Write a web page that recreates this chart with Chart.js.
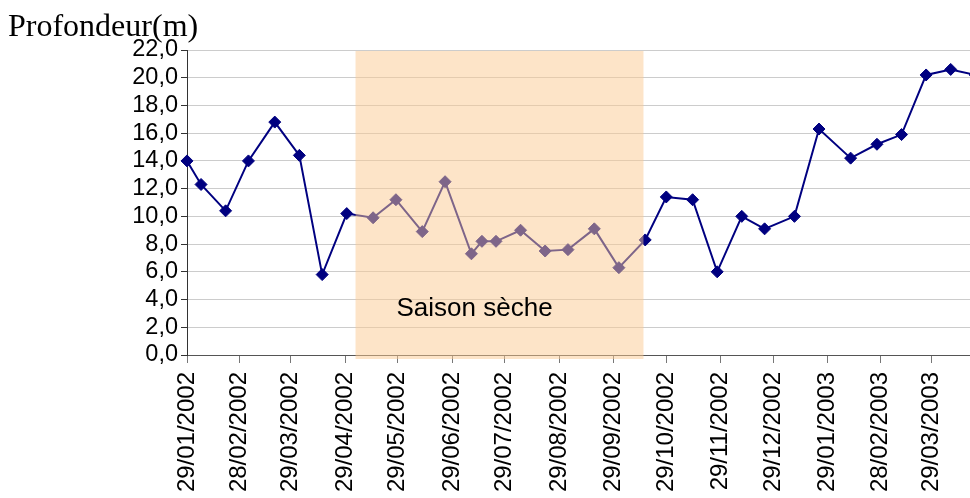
<!DOCTYPE html>
<html>
<head>
<meta charset="utf-8">
<script src="https://cdn.jsdelivr.net/npm/chart.js@4"></script>
<style>
  html, body { margin: 0; padding: 0; background: #fff; }
  #box { width: 970px; height: 498px; position: relative; }
</style>
</head>
<body>
<div id="box"><canvas id="graficaProfondeur"></canvas></div>
<script>
// ===============================
// DONNÉES
// ===============================

const datesMesure = [
    "29/01/2002", "06/02/2002", "20/02/2002", "05/03/2002", "20/03/2002",
    "03/04/2002", "16/04/2002", "30/04/2002", "15/05/2002", "28/05/2002",
    "12/06/2002", "25/06/2002", "10/07/2002", "16/07/2002", "24/07/2002",
    "07/08/2002", "21/08/2002", "03/09/2002", "18/09/2002", "02/10/2002",
    "17/10/2002", "29/10/2002", "13/11/2002", "27/11/2002", "11/12/2002",
    "24/12/2002", "10/01/2003", "24/01/2003", "11/02/2003", "26/02/2003",
    "12/03/2003", "26/03/2003", "09/04/2003", "23/04/2003"
];

const profondeurs = [
    14.0, 12.3, 10.4, 14.0, 16.8,
    14.4, 5.8, 10.2, 9.9, 11.2,
    8.9, 12.5, 7.3, 8.2, 8.2,
    9.0, 7.5, 7.6, 9.1, 6.3,
    8.3, 11.4, 11.2, 6.0, 10.0,
    9.1, 10.0, 16.3, 14.2, 15.2,
    15.9, 20.2, 20.6, 20.2
];

const ticksDates = [
    "29/01/2002", "28/02/2002", "29/03/2002", "29/04/2002", "29/05/2002",
    "29/06/2002", "29/07/2002", "29/08/2002", "29/09/2002", "29/10/2002",
    "29/11/2002", "29/12/2002", "29/01/2003", "28/02/2003", "29/03/2003"
];

const debutAxe = "29/01/2002";
const finAxe = "20/04/2003";

const saisonSeche = ["05/05/2002", "16/10/2002"];
const texteSaison = "Saison sèche";

const yMin = 0;
const yMax = 22;
const yPas = 2;


// ===============================
// OUTILS
// ===============================

function versJour(texte) {
    const p = texte.split("/");
    return Date.UTC(+p[2], +p[1] - 1, +p[0]) / 86400000;
}

function versTexte(jour) {
    const d = new Date(Math.round(jour) * 86400000);
    const jj = String(d.getUTCDate()).padStart(2, "0");
    const mm = String(d.getUTCMonth() + 1).padStart(2, "0");
    return jj + "/" + mm + "/" + d.getUTCFullYear();
}


// ===============================
// RECTANGLE SAISON SÈCHE
// ===============================

const pluginSaison = {
    id: "saison",
    afterDatasetsDraw(chart) {
        const ctx = chart.ctx;
        const x = chart.scales.x;
        const area = chart.chartArea;

        const x1 = x.getPixelForValue(versJour(saisonSeche[0]));
        const x2 = x.getPixelForValue(versJour(saisonSeche[1]));

        ctx.save();
        ctx.fillStyle = "rgba(251,201,145,0.5)";
        ctx.fillRect(x1, area.top + 1, x2 - x1, area.bottom - area.top + 3);

        ctx.fillStyle = "#000";
        ctx.font = "26px 'Liberation Sans', Arial, sans-serif";
        ctx.textAlign = "center";
        ctx.textBaseline = "alphabetic";
        ctx.fillText(texteSaison, x1 + 119, area.bottom - 39);
        ctx.restore();
    }
};

const pluginTitre = {
    id: "titre",
    afterDraw(chart) {
        const ctx = chart.ctx;
        ctx.save();
        ctx.fillStyle = "#000";
        ctx.font = "32px 'Liberation Serif', 'Times New Roman', serif";
        ctx.textAlign = "left";
        ctx.textBaseline = "alphabetic";
        ctx.fillText("Profondeur(m)", 8, 36);
        ctx.restore();
    }
};


// ===============================
// GRAPHIQUE
// ===============================

const points = datesMesure.map((d, i) => ({ x: versJour(d), y: profondeurs[i] }));

new Chart(document.getElementById("graficaProfondeur"), {

    type: "line",

    data: {
        datasets: [{
            label: "Profondeur",
            data: points,
            borderColor: "#000080",
            backgroundColor: "#000080",
            borderWidth: 2,
            tension: 0,
            clip: false,
            pointStyle: "rectRot",
            pointRadius: 6,
            pointBorderWidth: 1,
            pointBorderColor: "#000080",
            pointBackgroundColor: "#000080",
            fill: false
        }]
    },

    options: {
        responsive: true,
        maintainAspectRatio: false,
        animation: false,
        devicePixelRatio: 1,
        layout: {
            autoPadding: false,
            padding: { top: 50, left: 0, right: 0, bottom: 0 }
        },
        plugins: {
            legend: { display: false },
            tooltip: { enabled: false }
        },
        scales: {
            x: {
                type: "linear",
                min: versJour(debutAxe),
                max: versJour(finAxe),
                afterBuildTicks(axis) {
                    axis.ticks = ticksDates.map(d => ({ value: versJour(d) }));
                },
                afterFit(axis) {
                    axis.height = 143;
                    axis.paddingLeft = 0;
                    axis.paddingRight = 0;
                },
                grid: {
                    drawOnChartArea: false,
                    drawTicks: true,
                    tickLength: 8,
                    tickColor: "#777"
                },
                border: { color: "#555", width: 1 },
                ticks: {
                    autoSkip: false,
                    minRotation: 90,
                    maxRotation: 90,
                    padding: 9,
                    color: "#000",
                    font: { family: "'Liberation Sans', Arial, sans-serif", size: 24 },
                    callback: (v) => versTexte(v)
                }
            },
            y: {
                min: yMin,
                max: yMax,
                afterFit(axis) {
                    axis.width = 187;
                    axis.paddingTop = 0;
                    axis.paddingBottom = 0;
                },
                grid: {
                    color: "#cccccc",
                    lineWidth: 1,
                    tickLength: 6,
                    tickColor: "#333"
                },
                border: { color: "#333", width: 1 },
                ticks: {
                    autoSkip: false,
                    stepSize: yPas,
                    padding: 3,
                    color: "#000",
                    font: { family: "'Liberation Sans', Arial, sans-serif", size: 23.5 },
                    callback: (v) => v.toFixed(1).replace(".", ",")
                }
            }
        }
    },

    plugins: [pluginSaison, pluginTitre]

});
</script>
</body>
</html>
